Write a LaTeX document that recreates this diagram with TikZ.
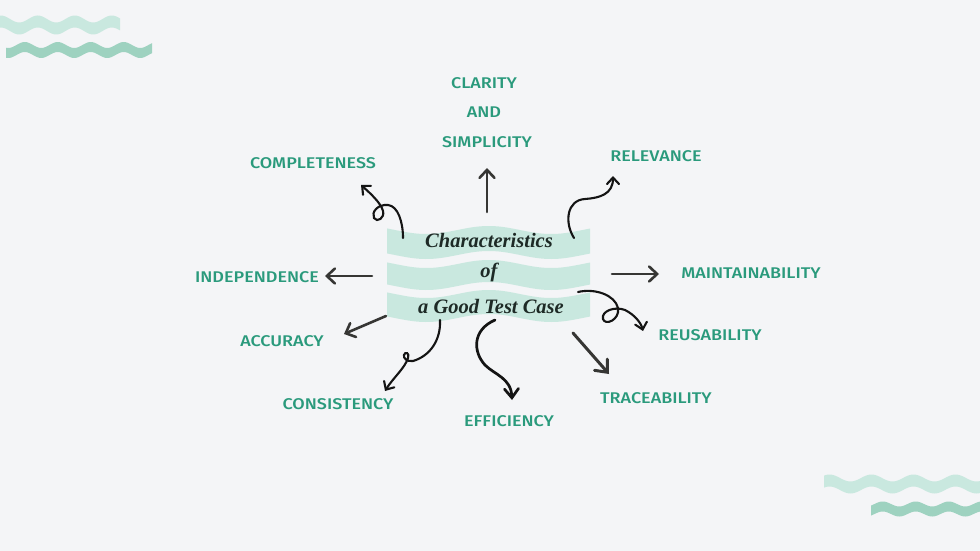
\documentclass[tikz,border=0pt]{standalone}
\usepackage{fontspec}
\usetikzlibrary{arrows.meta}
\newfontfamily\labfont[FakeStretch=1.16]{Fira Sans Medium}
\newfontfamily\ttlfont{Liberation Serif}
\definecolor{bg}{HTML}{F4F5F7}
\definecolor{labgreen}{HTML}{2A9A7C}
\definecolor{wavelight}{HTML}{C9E8DF}
\definecolor{wavedark}{HTML}{9ED2C0}
\definecolor{ink}{HTML}{363634}
\definecolor{titleink}{HTML}{1E2A26}
\newcommand\wband[8]{\fill[#8] plot[domain=#1:#2,samples=90,smooth] (\x,{#3+#5*sin((360/#6)*(\x-#7))}) -- plot[domain=#2:#1,samples=90,smooth] (\x,{#3+#4+#5*sin((360/#6)*(\x-#7))}) -- cycle;}
\tikzset{
  lab/.style={font=\labfont\fontsize{15.5}{15.5}\selectfont, text=labgreen, inner sep=0pt},
  ttl/.style={font=\ttlfont\bfseries\itshape\fontsize{20.5}{20.5}\selectfont, text=titleink, inner sep=0pt},
  arr/.style={draw=ink, line width=2.6pt, line cap=round, -{Straight Barb[length=8pt,width=15pt,line cap=round]}},
  bigarr/.style={draw=ink, line width=3pt, line cap=round, -{Straight Barb[length=10pt,width=17pt,line cap=round]}},
  curl/.style={draw=black!92, line width=2.1pt, line cap=round, -{Straight Barb[length=6.5pt,width=12pt,line cap=round]}},
}
\begin{document}
\begin{tikzpicture}[x=1pt,y=-1pt]
\fill[bg] (0,0) rectangle (980,551);
\useasboundingbox (0,0) rectangle (980,551);
% corner waves
\wband{0}{120}{19}{12}{3.5}{37}{10}{wavelight}
\wband{6}{152}{45}{10}{3}{33}{0}{wavedark}
\wband{824}{980}{478}{12}{3.5}{42}{0}{wavelight}
\wband{871}{980}{504}{10}{2.5}{33}{0}{wavedark}
% central bands
\wband{387}{590}{230}{25}{4}{125}{20}{wavelight}
\wband{387}{590}{264}{22}{4}{125}{20}{wavelight}
\wband{387}{590}{294}{24}{4}{125}{20}{wavelight}
% title
\node[ttl] (t1) at (489,240) {Characteristics};
\node[ttl] (t2) at (489,272) {of};
\node[ttl] (t3) at (491,306) {a Good Test Case};
% labels
\node[lab] (cla) at (484,83) {CLARITY};
\node[lab] (and) at (484,112) {AND};
\node[lab] (sim) at (487,142) {SIMPLICITY};
\node[lab] (com) at (313,163) {COMPLETENESS};
\node[lab] (rel) at (656,156) {RELEVANCE};
\node[lab] (ind) at (257,277) {INDEPENDENCE};
\node[lab] (mai) at (751,273) {MAINTAINABILITY};
\node[lab] (acc) at (282,341) {ACCURACY};
\node[lab] (reu) at (710,335) {REUSABILITY};
\node[lab] (con) at (338,404) {CONSISTENCY};
\node[lab] (eff) at (509,421) {EFFICIENCY};
\node[lab] (tra) at (656,398) {TRACEABILITY};
% arrow ends
\coordinate (sCla) at (487,212); \coordinate (eCla) at (487,168);
\coordinate (sCom) at (403,238); \coordinate (eCom) at (361,185);
\coordinate (sRel) at (574,238); \coordinate (eRel) at (613,176);
\coordinate (sInd) at (372,276); \coordinate (eInd) at (325,276);
\coordinate (sAcc) at (386,316); \coordinate (eAcc) at (344,334);
\coordinate (sCon) at (440,320); \coordinate (eCon) at (385,391);
\coordinate (sEff) at (495,320); \coordinate (eEff) at (512,400);
\coordinate (sMai) at (612,274); \coordinate (eMai) at (659,274);
\coordinate (sReu) at (578,292); \coordinate (eReu) at (643,331);
\coordinate (sTra) at (573,333); \coordinate (eTra) at (609,374);
% arrows
\draw[arr] (sCla) -- (eCla);
\draw[arr] (sInd) -- (eInd);
\draw[arr] (sAcc) -- (eAcc);
\draw[arr] (sMai) -- (eMai);
\draw[bigarr] (sTra) -- (eTra);
\draw[curl] (sCom) .. controls (403,222) and (398,206) .. (388,205)
  .. controls (378,204) and (371,212) .. (374,218)
  .. controls (377,223) and (385,218) .. (383,211)
  .. controls (381,203) and (370,193) .. (eCom);
\draw[curl] (sRel) .. controls (564,222) and (567,200) .. (585,199)
  .. controls (600,198) and (613,194) .. (eRel);
\draw[curl] (sCon) .. controls (441,340) and (430,356) .. (413,361)
  .. controls (407,362) and (403,358) .. (404,355)
  .. controls (405,351) and (410,353) .. (408,358)
  .. controls (405,368) and (393,378) .. (eCon);
\draw[curl, line width=2.7pt, -{Straight Barb[length=9pt,width=14pt,line cap=round]}] (sEff) .. controls (472,330) and (473,352) .. (485,365)
  .. controls (495,375) and (511,378) .. (eEff);
\draw[curl] (sReu) .. controls (595,288) and (615,295) .. (618,308)
  .. controls (620,320) and (605,326) .. (603,319)
  .. controls (601,311) and (615,306) .. (625,310)
  .. controls (635,315) and (641,323) .. (eReu);
\end{tikzpicture}
\end{document}
